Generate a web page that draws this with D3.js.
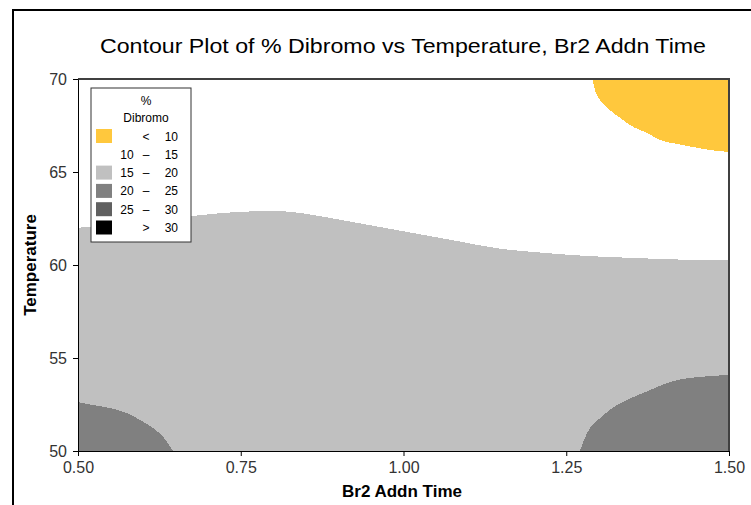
<!DOCTYPE html>
<html>
<head>
<meta charset="utf-8">
<script src="https://cdn.jsdelivr.net/npm/d3@7/dist/d3.min.js"></script>
<style>
  body { margin: 0; background: #fff; }
  text { font-family: "Liberation Sans", Arial, sans-serif; }
</style>
</head>
<body>
<svg id="chart" width="751" height="505"></svg>
<script>
// Axis ticks
const xTicks = [0.50, 0.75, 1.00, 1.25, 1.50];
const yTicks = [50, 55, 60, 65, 70];

// Upper edge of the 15–20 band (everything below it, down to 50, is 15–20 or higher)
const band15Time = [0.500, 0.600, 0.674, 0.744, 0.804, 0.841, 0.879, 0.947, 1.015, 1.082, 1.142, 1.217, 1.285, 1.353, 1.454, 1.500];
const band15Temp = [62.00, 62.35, 62.63, 62.85, 62.90, 62.80, 62.58, 62.15, 61.72, 61.29, 60.91, 60.65, 60.48, 60.38, 60.27, 60.27];

// 20–25 pocket, lower left (upper edge)
const lowLeftTime = [0.500, 0.523, 0.549, 0.575, 0.595, 0.615, 0.631, 0.638, 0.646];
const lowLeftTemp = [52.63, 52.47, 52.31, 52.04, 51.67, 51.24, 50.75, 50.43, 50.00];

// 20–25 pocket, lower right (upper edge)
const lowRightTime = [1.271, 1.282, 1.302, 1.328, 1.353, 1.379, 1.405, 1.429, 1.455, 1.500];
const lowRightTemp = [50.00, 50.97, 51.77, 52.47, 52.90, 53.28, 53.66, 53.87, 53.98, 54.09];

// < 10 pocket, upper right (lower edge)
const topRightTime = [1.290, 1.294, 1.302, 1.317, 1.333, 1.353, 1.374, 1.394, 1.420, 1.445, 1.471, 1.500];
const topRightTemp = [70.00, 69.41, 68.87, 68.33, 67.90, 67.42, 67.10, 66.72, 66.51, 66.34, 66.18, 66.08];

// Legend
const legendLow    = ["", "10", "15", "20", "25", ""];
const legendOp     = ["<", "–", "–", "–", "–", ">"];
const legendHigh   = ["10", "15", "20", "25", "30", "30"];
const legendColors = ["#ffc83d", null, "#c0c0c0", "#808080", "#606060", "#000000"];

const svg = d3.select("#chart");

const x = d3.scaleLinear().domain([0.5, 1.5]).range([78, 729]);
const y = d3.scaleLinear().domain([50, 70]).range([451, 79]);

// outer frame (top and left edges)
svg.append("path")
  .attr("d", "M13,505 L13,10 L751,10")
  .attr("fill", "none").attr("stroke", "#000").attr("stroke-width", 2);

// title
svg.append("text")
  .attr("x", 403).attr("y", 53)
  .attr("text-anchor", "middle")
  .attr("font-size", 21)
  .attr("textLength", 606).attr("lengthAdjust", "spacingAndGlyphs")
  .attr("fill", "#000")
  .text("Contour Plot of % Dibromo vs Temperature, Br2 Addn Time");

// plot area
svg.append("clipPath").attr("id", "plotClip")
  .append("rect").attr("x", x(0.5)).attr("y", y(70))
  .attr("width", x(1.5) - x(0.5)).attr("height", y(50) - y(70));

const g = svg.append("g").attr("clip-path", "url(#plotClip)");

g.append("rect")
  .attr("x", x(0.5)).attr("y", y(70))
  .attr("width", x(1.5) - x(0.5)).attr("height", y(50) - y(70))
  .attr("fill", "#fff");

const zip = (ts, vs) => ts.map((t, i) => [t, vs[i]]);

const areaBelow = d3.area()
  .x(d => x(d[0])).y0(y(50)).y1(d => y(d[1]))
  .curve(d3.curveMonotoneX);
const areaAbove = d3.area()
  .x(d => x(d[0])).y0(y(70)).y1(d => y(d[1]))
  .curve(d3.curveMonotoneX);

g.append("path").attr("d", areaBelow(zip(band15Time, band15Temp)))
  .attr("fill", "#c0c0c0").attr("shape-rendering", "crispEdges");
g.append("path").attr("d", areaBelow(zip(lowLeftTime, lowLeftTemp)))
  .attr("fill", "#808080").attr("shape-rendering", "crispEdges");
g.append("path").attr("d", areaBelow(zip(lowRightTime, lowRightTemp)))
  .attr("fill", "#808080").attr("shape-rendering", "crispEdges");
g.append("path").attr("d", areaAbove(zip(topRightTime, topRightTemp)))
  .attr("fill", "#ffc83d").attr("shape-rendering", "crispEdges");

// top and right edges of the plot frame
svg.append("path")
  .attr("d", `M${x(0.5)},${y(70)} L${x(1.5)},${y(70)} L${x(1.5)},${y(50)}`)
  .attr("fill", "none").attr("stroke", "#404040").attr("stroke-width", 2);

// axes
const xAxis = d3.axisBottom(x).tickValues(xTicks).tickFormat(d3.format(".2f"))
  .tickSize(5).tickSizeOuter(0).tickPadding(6);
const yAxis = d3.axisLeft(y).tickValues(yTicks).tickFormat(d3.format("d"))
  .tickSize(5).tickSizeOuter(0).tickPadding(6);

const gx = svg.append("g").attr("transform", `translate(0,${y(50)})`).call(xAxis);
const gy = svg.append("g").attr("transform", `translate(${x(0.5)},0)`).call(yAxis);
[gx, gy].forEach(a => {
  a.selectAll("text").attr("font-size", 16).attr("fill", "#333")
    .attr("font-family", "'Liberation Sans', Arial, sans-serif");
  a.selectAll("line,path").attr("stroke", "#000");
});

// axis titles
svg.append("text")
  .attr("x", 402).attr("y", 497)
  .attr("text-anchor", "middle")
  .attr("font-size", 17).attr("font-weight", "bold")
  .text("Br2 Addn Time");
svg.append("text")
  .attr("transform", `translate(36,${(y(50) + y(70)) / 2}) rotate(-90)`)
  .attr("text-anchor", "middle")
  .attr("font-size", 17).attr("font-weight", "bold")
  .text("Temperature");

// legend
const lg = svg.append("g").attr("transform", "translate(91,88)");
lg.append("rect").attr("x", 0).attr("y", 0).attr("width", 100).attr("height", 154)
  .attr("fill", "#fff").attr("stroke", "#333").attr("stroke-width", 1);
lg.append("text").attr("x", 55).attr("y", 17).attr("text-anchor", "middle")
  .attr("font-size", 12).attr("fill", "#000").text("%");
lg.append("text").attr("x", 55).attr("y", 34).attr("text-anchor", "middle")
  .attr("font-size", 12).attr("fill", "#000").text("Dibromo");

const rows = lg.selectAll("g.row").data(legendHigh).join("g")
  .attr("class", "row")
  .attr("transform", (d, i) => `translate(0,${41 + i * 18.3})`);
rows.each(function (d, i) {
  const r = d3.select(this);
  if (legendColors[i]) {
    r.append("rect").attr("x", 5).attr("y", 0).attr("width", 16).attr("height", 14)
      .attr("fill", legendColors[i]);
  }
  r.append("text").attr("x", 36).attr("y", 11.5).attr("text-anchor", "middle")
    .attr("font-size", 12).attr("fill", "#000").text(legendLow[i]);
  r.append("text").attr("x", 55).attr("y", 11.5).attr("text-anchor", "middle")
    .attr("font-size", 12).attr("fill", "#000").text(legendOp[i]);
  r.append("text").attr("x", 87).attr("y", 11.5).attr("text-anchor", "end")
    .attr("font-size", 12).attr("fill", "#000").text(legendHigh[i]);
});
</script>
</body>
</html>
